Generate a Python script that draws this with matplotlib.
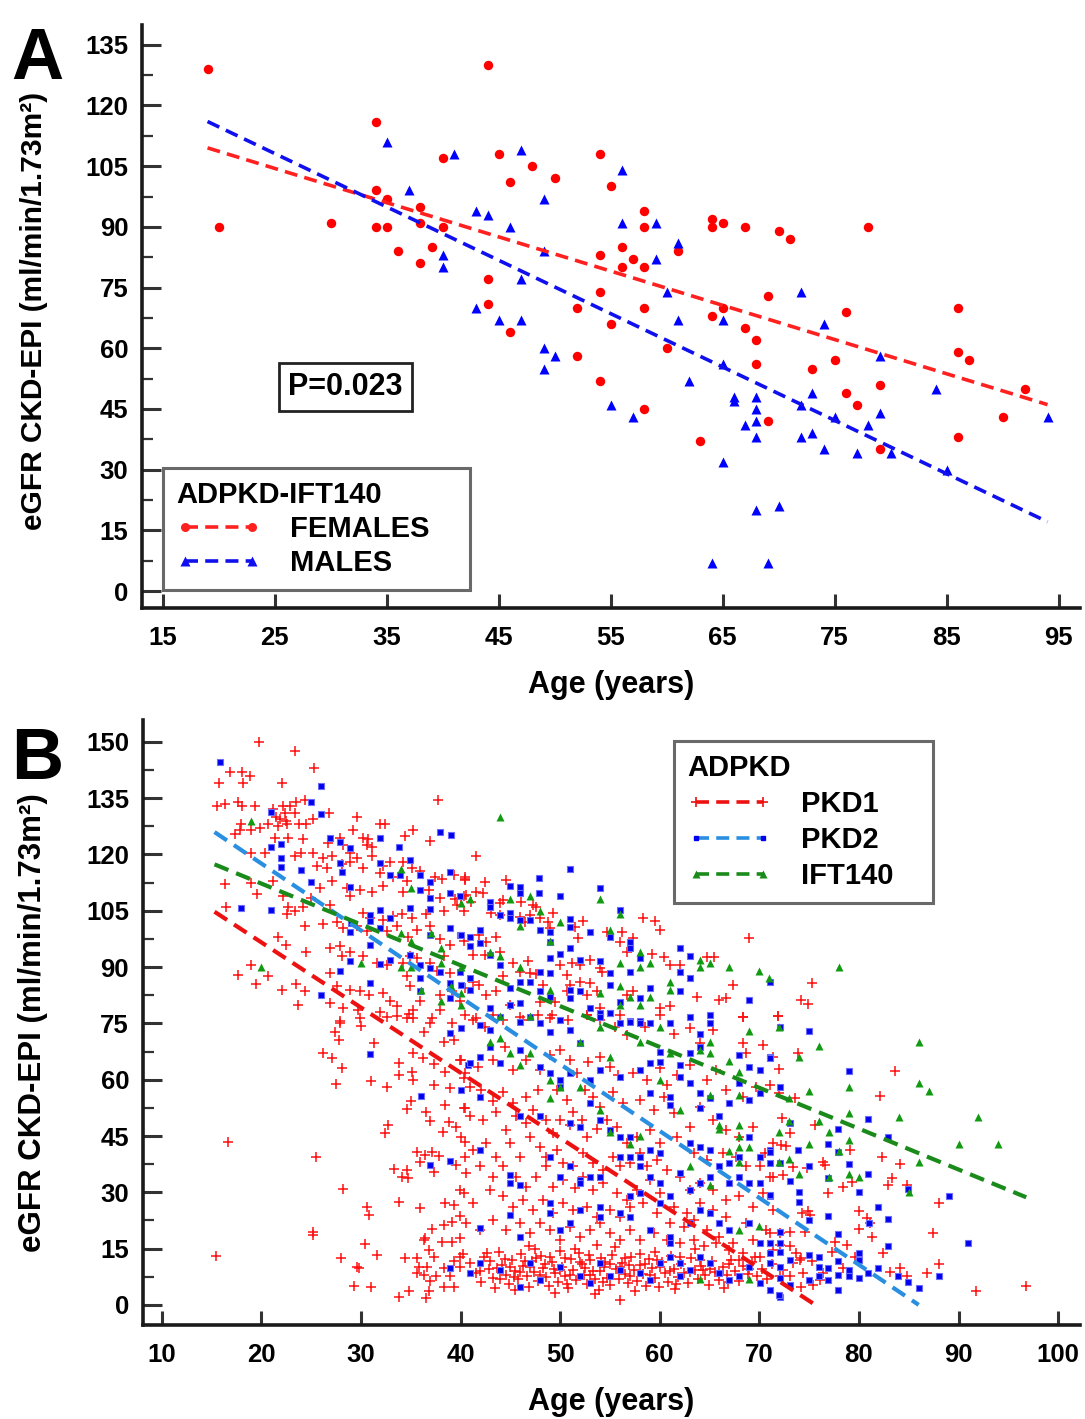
import matplotlib
matplotlib.use('Agg')
from matplotlib import pyplot as plt
from matplotlib.lines import Line2D
from matplotlib.ticker import MultipleLocator

plt.rcParams['font.family'] = ['Liberation Sans', 'DejaVu Sans']
plt.rcParams['font.weight'] = 'bold'

# ---- panel A: ADPKD-IFT140 by sex ----
female_age = [19, 20, 30, 34, 34, 34, 35, 35, 36, 38, 38, 38, 39, 40, 40, 44, 45, 48, 46, 50,
              54, 55, 58, 58, 64, 64, 65, 67, 54, 56, 57, 56, 58, 61, 44, 44, 46, 54, 52, 58,
              55, 60, 64, 65, 67, 68, 52, 70, 71, 78, 69, 76, 86, 54, 58, 63, 68, 73, 75, 86,
              87, 79, 76, 77, 69, 92, 90, 86, 79]
female_egfr = [129, 90, 91, 116, 99, 90, 97, 90, 84, 95, 91, 81, 85, 107, 90, 130, 108, 105, 101, 102,
               108, 100, 94, 90, 92, 90, 91, 90, 83, 85, 82, 80, 80, 84, 77, 71, 64, 74, 70, 70,
               66, 60, 68, 70, 65, 62, 58, 89, 87, 90, 73, 69, 70, 52, 45, 37, 56, 55, 57, 59,
               57, 51, 49, 46, 42, 50, 43, 38, 35]
male_age = [35, 41, 37, 40, 40, 47, 49, 43, 44, 46, 56, 56, 59, 61, 59, 49, 47, 43, 45, 47,
            60, 61, 65, 49, 50, 49, 55, 57, 62, 65, 66, 66, 67, 68, 68, 68, 68, 65, 68, 64,
            79, 73, 72, 75, 78, 79, 72, 73, 74, 77, 80, 84, 85, 94, 70, 69, 72, 74]
male_egfr = [111, 108, 99, 83, 80, 109, 97, 94, 93, 90, 104, 91, 91, 86, 82, 84, 77, 70, 67, 67,
             74, 67, 67, 60, 58, 55, 46, 43, 52, 56, 48, 47, 41, 48, 45, 42, 38, 32, 20, 7,
             58, 49, 46, 43, 41, 44, 38, 39, 35, 34, 34, 50, 30, 43, 21, 7, 74, 66]

# regression lines: (intercept, slope, age_from, age_to)
fit_female = (125.6, -0.846, 19, 94)
fit_male = (141.1, -1.319, 19, 94)

# ---- panel B: ADPKD by gene ----
pkd1_points = [
    (19.8, 150), (23.4, 147.5), (25.3, 143), (16.9, 142), (18.1, 142), (18.9, 141), (15.8, 139), (18.2, 139),
    (22.1, 139), (37.7, 134.5), (15.5, 133), (16.4, 133.5), (17.7, 134), (18.1, 133), (19.4, 133), (21.2, 132),
    (22.2, 133), (22.9, 133), (23.5, 134), (24.4, 134.5), (22.4, 131), (23.4, 131), (21.5, 130), (21.9, 129.5),
    (22.5, 129), (26.8, 131), (25.2, 129.5), (24.5, 128), (23.8, 128), (22.6, 128), (21.7, 127.5), (20.7, 128),
    (19.9, 127), (19.0, 126.5), (18.0, 128), (17.9, 126.5), (17.4, 125.5), (29.6, 130), (31.9, 128), (32.4, 128),
    (35.2, 126.5), (34.4, 125), (29.2, 126.5), (30.2, 124.5), (30.7, 124), (36.9, 123.5), (26.7, 123), (28.2, 122.5),
    (28.9, 120.5), (30.6, 122.5), (31.1, 122), (27.9, 124.5), (24.2, 124), (22.7, 124.5), (21.4, 124.5), (19.0, 120.5),
    (20.4, 120.5), (23.4, 119.5), (24.0, 120.5), (25.2, 120.5), (26.2, 119), (27.1, 119.5), (29.6, 119), (31.1, 119.5),
    (32.2, 117), (32.9, 118), (34.2, 118), (35.1, 116.5), (35.9, 115.5), (37.4, 114), (38.1, 113.5), (39.3, 114.5),
    (40.4, 113.5), (25.6, 117), (26.6, 116.5), (28.1, 117.5), (28.9, 118), (30.2, 116.5), (31.9, 115), (33.2, 114),
    (34.6, 113), (27.1, 113), (25.9, 111), (28.6, 111), (29.9, 110.5), (28.9, 109), (31.1, 110), (32.2, 111.5),
    (34.2, 110), (36.8, 110.5), (37.9, 108.5), (39.4, 108), (40.3, 109), (39.6, 106.5), (38.3, 105), (36.5, 104),
    (35.1, 103), (34.1, 104), (33.2, 103.5), (32.2, 102.5), (30.9, 103), (30.2, 104.5), (26.9, 106.5), (25.0, 108.5),
    (24.2, 106), (23.4, 105), (22.7, 106), (22.6, 104), (16.4, 112), (19.6, 109.5), (16.5, 106), (19.0, 112.5),
    (21.2, 113), (22.2, 109), (24.4, 101), (26.2, 101.5), (27.6, 102), (28.2, 100.5), (29.6, 101), (30.6, 99.5),
    (32.6, 99.5), (33.6, 101), (34.7, 98), (35.6, 100), (36.9, 101), (37.9, 97.5), (38.9, 96), (40.3, 97),
    (21.7, 98), (22.5, 96), (24.5, 94), (26.9, 95), (27.9, 95.5), (28.1, 93), (28.9, 94), (30.2, 93),
    (31.6, 91), (32.6, 90.5), (34.2, 91), (34.9, 93), (35.6, 92.5), (36.9, 91), (37.6, 89), (38.3, 93),
    (38.9, 88.5), (19.0, 90.5), (17.7, 88), (20.7, 87.5), (19.5, 85.5), (22.1, 84), (23.5, 85.5), (24.4, 83.5),
    (26.9, 88.5), (27.6, 85), (28.9, 84), (29.9, 83.5), (30.8, 82.5), (32.2, 83), (32.9, 81), (33.6, 79.5),
    (34.6, 87.5), (34.9, 85), (35.9, 81), (35.2, 78.5), (37.9, 82.5), (39.1, 83.5), (39.9, 81), (23.7, 80),
    (26.9, 80.5), (28.2, 79), (29.7, 78.5), (31.9, 78), (33.6, 77), (34.6, 76.5), (35.2, 76.5), (37.1, 76.5),
    (37.9, 78.5), (27.9, 75.5), (29.9, 76.5),
    (41.6, 119.7), (40.5, 114.1), (40.5, 113.2), (42.5, 112.7), (44.6, 113.2), (40.6, 109.2), (41.6, 110.1), (42.3, 109.6),
    (40.0, 108.3), (41.1, 107.4), (44.0, 107.0), (44.3, 107.9), (46.1, 107.4), (47.3, 106.5), (47.6, 106.1), (40.3, 104.8),
    (43.1, 104.3), (44.0, 103.9), (46.0, 103.4), (46.5, 102.1), (47.0, 103.9), (48.0, 103.0), (49.3, 104.5), (48.8, 102.1),
    (49.0, 100.3), (51.5, 100.8), (52.3, 102.3), (51.8, 97.7), (54.7, 99.4), (56.2, 99.4), (58.3, 103.0), (59.5, 102.3),
    (60.0, 99.9), (57.3, 97.7), (56.0, 96.8), (56.7, 94.1), (59.2, 93.4), (60.4, 92.8), (61.0, 90.6), (62.0, 90.6),
    (64.7, 92.8), (65.5, 92.8), (69.0, 97.8), (41.9, 98.6), (42.6, 96.8), (43.6, 98.1), (41.3, 93.2), (42.5, 93.2),
    (44.0, 94.1), (45.3, 91.0), (46.8, 91.5), (46.0, 88.8), (47.0, 88.4), (47.6, 88.1), (48.3, 85.2), (50.0, 90.6),
    (50.7, 87.9), (51.2, 91.0), (52.0, 90.6), (53.0, 91.9), (54.0, 89.7), (54.2, 88.8), (53.0, 85.7), (52.0, 86.1),
    (51.0, 85.2), (44.3, 87.5), (43.6, 83.5), (41.9, 85.2), (41.3, 86.1), (40.5, 84.4), (42.6, 82.6), (45.0, 79.9),
    (48.0, 80.8), (49.5, 80.8), (50.7, 83.5), (52.7, 82.6), (53.7, 83.5), (56.7, 82.6), (57.3, 83.5), (60.0, 79.0),
    (61.0, 79.5), (63.7, 82.1), (66.0, 81.2), (66.7, 81.7), (67.4, 85.2), (68.4, 76.8), (54.0, 79.0), (52.7, 77.2),
    (49.0, 76.3), (46.3, 75.9), (41.6, 76.3), (43.3, 77.2), (56.0, 77.2),
    (75.3, 85.7), (74.2, 81.2), (74.9, 80.1), (71.9, 77.0),
    (16.7, 43.3), (15.4, 13.0), (25.5, 39.3), (25.2, 19.5), (25.2, 18.6), (28.2, 30.9), (27.9, 75.0), (27.4, 72.8),
    (27.8, 70.7), (26.2, 67.2), (27.1, 65.9), (28.1, 63.0), (27.5, 58.9), (30.0, 74.3), (31.3, 69.7), (31.0, 59.7),
    (32.6, 58.0), (30.6, 26.2), (30.8, 24.0), (30.4, 16.2), (31.6, 13.3), (28.0, 12.4), (29.6, 10.0), (29.8, 9.8),
    (29.3, 5.1), (31.0, 4.9), (33.8, 2.0), (34.8, 3.7), (33.8, 27.3), (33.3, 36.1), (34.1, 34.0), (34.7, 33.7),
    (34.6, 35.9), (32.7, 47.9), (32.4, 45.7), (33.8, 64.4), (33.8, 61.3), (35.1, 62.1), (35.2, 59.9), (34.6, 52.1),
    (35.0, 54.2), (36.5, 51.5), (36.9, 49.1), (35.6, 40.8), (35.9, 38.2), (36.4, 39.9), (37.1, 40.8), (37.8, 39.7),
    (37.3, 35.5), (35.9, 25.8), (38.4, 27.1), (39.3, 26.6), (39.9, 30.6), (38.3, 21.3), (39.1, 22.2), (39.9, 23.6),
    (37.1, 20.2), (36.4, 17.8), (36.3, 17.3), (38.1, 16.9), (39.1, 16.9), (39.9, 17.8), (36.8, 14.6), (37.3, 12.9),
    (34.4, 12.4), (35.6, 12.4), (35.8, 10.2), (36.6, 10.0), (35.6, 8.5), (36.3, 8.0), (37.5, 7.6), (36.9, 6.5),
    (38.3, 4.9), (39.3, 4.9), (36.8, 3.6), (36.5, 1.8), (39.3, 11.6), (39.9, 12.9), (39.9, 10.2), (38.9, 7.6),
    (38.3, 9.8), (36.9, 75.0), (36.3, 72.8), (38.3, 70.1), (35.2, 67.0), (36.2, 65.7), (37.3, 64.2), (37.3, 58.6),
    (38.4, 62.1), (38.9, 57.7), (38.4, 53.3), (40.3, 52.4), (38.8, 48.8), (39.5, 47.5), (38.2, 46.1), (40.4, 43.5),
    (40.4, 39.5), (39.5, 37.3), (34.8, 77.5), (32.6, 76.8), (39.1, 75.0), (39.3, 70.6), (39.9, 65.2), (40.3, 60.4),
    (40.5, 77.2), (41.3, 75.9), (42.5, 74.1), (44.3, 75.9), (46.0, 76.8), (47.8, 77.2), (49.2, 77.2), (50.8, 75.9),
    (52.7, 77.2), (54.0, 75.9), (55.5, 74.1), (56.7, 71.9), (58.5, 74.1), (60.0, 77.2), (61.4, 72.3), (63.0, 73.7),
    (64.0, 69.7), (65.4, 73.2), (68.4, 76.8), (68.4, 69.7), (68.7, 67.0), (70.4, 69.2), (71.4, 66.1),
    (40.0, 65.2), (40.5, 61.7), (41.8, 63.5), (43.3, 65.2), (44.5, 68.8), (45.3, 62.6), (46.6, 65.2), (48.0, 62.6),
    (49.0, 66.6), (50.0, 67.9), (51.0, 65.2), (51.7, 61.7), (52.8, 64.8), (54.0, 66.1), (55.0, 63.5), (55.8, 61.3),
    (57.3, 61.7), (58.7, 59.9), (60.0, 63.0), (60.7, 58.6), (61.7, 61.3), (63.0, 63.9), (64.7, 59.9), (65.7, 62.6),
    (66.7, 57.3), (68.4, 55.5), (69.7, 58.1), (71.1, 58.6),
    (41.0, 58.1), (42.1, 57.3), (43.3, 54.2), (44.3, 56.8), (45.3, 53.7), (46.6, 55.5), (47.8, 57.3), (49.7, 57.3),
    (50.7, 54.6), (51.3, 51.5), (52.5, 57.3), (53.3, 55.5), (54.0, 52.8), (55.3, 56.8), (56.3, 53.7), (58.0, 54.6),
    (59.4, 51.9), (60.4, 55.5), (61.4, 51.0), (63.0, 47.5), (64.0, 52.8), (65.4, 49.3), (66.7, 46.6), (68.0, 44.8),
    (69.4, 47.5), (70.6, 40.4), (71.4, 43.1),
    (40.5, 52.4), (41.0, 50.2), (42.3, 49.3), (43.6, 51.5), (44.6, 46.6), (45.6, 50.2), (46.6, 48.4), (47.3, 51.9),
    (48.6, 49.3), (49.3, 45.7), (50.0, 49.3), (51.0, 47.9), (52.2, 49.3), (52.7, 44.8), (53.7, 47.0), (54.7, 49.3),
    (55.7, 47.5), (56.7, 43.1), (57.7, 44.8), (59.0, 46.6), (60.0, 43.1), (61.7, 44.8), (63.4, 40.4), (64.7, 38.6),
    (66.4, 40.4), (67.7, 39.5), (68.7, 36.9), (70.1, 36.9), (71.1, 34.2),
    (40.0, 44.8), (41.3, 41.3), (42.6, 43.1), (43.6, 39.5), (45.0, 43.1), (46.0, 39.5), (47.0, 44.8), (48.0, 42.2),
    (48.6, 39.5), (49.7, 41.3), (50.3, 37.7), (51.3, 36.9), (52.3, 40.4), (53.3, 37.7), (54.3, 36.0), (55.3, 39.5),
    (56.0, 36.9), (57.0, 37.7), (58.0, 40.4), (58.7, 36.9), (59.7, 38.6), (60.7, 36.0), (62.0, 34.2), (63.0, 30.6),
    (64.0, 32.4), (65.4, 30.6), (66.7, 28.0), (68.0, 28.9), (69.4, 26.2), (70.4, 29.7), (71.4, 25.3),
    (40.6, 35.1), (42.0, 36.9), (43.3, 34.2), (44.3, 36.9), (45.6, 34.2), (46.6, 31.5), (47.6, 34.2), (48.6, 36.9),
    (49.3, 31.5), (50.3, 33.3), (51.5, 31.1), (52.3, 34.2), (53.3, 30.6), (54.3, 32.4), (55.7, 29.7), (56.7, 28.0),
    (57.7, 30.6), (59.0, 33.3), (60.0, 29.7), (61.4, 26.2), (62.7, 24.4), (64.0, 27.1), (65.4, 25.3), (66.7, 23.5),
    (68.7, 21.8), (70.7, 20.0),
    (40.3, 29.7), (41.3, 27.1), (43.0, 30.6), (44.3, 28.9), (45.3, 26.2), (46.3, 28.0), (47.3, 25.3), (48.3, 28.0),
    (49.3, 24.4), (50.3, 27.1), (51.3, 25.3), (52.7, 26.2), (53.7, 23.5), (55.0, 25.3), (56.0, 23.5), (57.0, 26.2),
    (58.3, 27.1), (59.7, 24.4), (61.0, 21.8), (62.4, 20.9), (63.4, 22.6), (64.7, 20.0), (66.0, 18.2), (67.4, 16.4),
    (69.4, 17.3), (71.4, 14.7),
    (40.6, 21.8), (42.0, 20.0), (43.3, 22.6), (44.6, 20.0), (46.0, 21.8), (47.0, 19.1), (48.0, 21.8), (49.0, 20.0),
    (50.0, 17.3), (51.0, 20.9), (52.0, 18.2), (53.0, 20.0), (54.0, 21.8), (55.0, 19.1), (56.0, 17.3), (57.0, 20.0),
    (58.0, 17.3), (59.4, 19.1), (60.7, 17.3), (62.0, 16.4), (63.4, 17.3), (64.4, 15.6), (65.7, 16.4), (67.0, 14.7),
    (68.4, 13.8), (70.1, 12.9),
    (40.2, 13.5), (41.0, 11.2), (41.6, 8.4), (42.1, 6.1), (42.4, 12.8), (42.9, 9.7), (43.3, 7.2), (43.5, 4.6),
    (43.9, 14.1), (44.2, 10.6), (44.6, 8.0), (44.9, 5.5), (45.2, 12.0), (45.5, 9.1), (45.8, 6.8), (46.1, 13.6),
    (46.3, 10.4), (46.7, 7.6), (46.9, 4.8), (47.2, 11.7), (47.4, 8.7), (47.8, 6.3), (48.1, 13.1), (48.3, 9.9),
    (48.6, 7.4), (48.9, 5.0), (49.2, 11.4), (49.5, 8.5), (49.8, 6.0), (50.0, 14.4), (50.2, 10.2), (50.5, 7.8),
    (50.8, 4.4), (51.1, 12.3), (51.3, 9.4), (51.6, 6.6), (51.9, 13.9), (52.2, 10.8), (52.4, 8.1), (52.7, 5.6),
    (53.0, 11.9), (53.3, 9.0), (53.5, 6.9), (53.9, 4.1), (54.1, 12.6), (54.4, 10.0), (54.7, 7.3), (55.0, 5.3),
    (55.2, 13.3), (55.6, 9.6), (55.9, 7.0), (56.2, 11.1), (56.5, 8.3), (56.8, 5.8), (57.1, 12.9), (57.4, 9.3),
    (57.7, 6.5), (58.0, 10.7), (58.3, 8.2), (58.6, 5.1), (58.9, 12.2), (59.2, 9.8), (59.5, 7.1), (59.9, 4.7),
    (60.2, 11.5), (60.5, 8.6), (60.8, 6.2), (61.1, 13.0), (61.4, 9.5), (61.8, 7.5), (62.1, 10.9), (62.4, 8.4),
    (62.8, 5.9), (63.1, 12.4), (63.5, 9.2), (63.8, 7.0), (64.1, 10.5), (64.5, 8.1), (64.9, 5.4), (65.2, 11.8),
    (65.6, 8.9), (66.0, 6.7), (66.4, 10.1), (66.8, 7.9), (67.2, 12.1), (67.6, 9.0), (68.0, 6.4), (68.4, 10.3),
    (68.9, 8.2), (69.3, 11.5), (69.8, 7.7), (70.3, 9.6), (70.8, 6.9), (71.3, 10.8),
    (42.0, 9.0), (43.0, 11.6), (44.0, 7.0), (45.0, 10.0), (46.0, 8.9), (47.0, 10.0), (48.0, 8.0), (49.0, 12.8),
    (50.0, 9.2), (51.0, 8.0), (52.0, 11.5), (53.0, 7.9), (54.0, 9.1), (55.0, 11.0), (56.0, 10.2), (57.0, 7.8),
    (58.0, 13.5), (59.0, 8.0), (60.0, 10.0), (61.0, 9.1), (62.0, 12.8), (63.0, 8.7), (64.0, 12.0), (65.0, 9.6),
    (66.0, 8.5), (67.0, 10.9), (68.0, 11.9), (69.0, 9.5), (44.5, 12.3), (46.5, 11.8), (48.5, 11.0), (50.5, 12.6),
    (52.5, 9.8), (54.5, 11.4), (56.5, 12.6), (58.5, 11.0), (47.5, 14.8), (51.5, 15.0), (55.5, 15.5), (59.5, 14.2),
    (63.5, 14.9), (53.5, 2.8), (57.5, 3.6), (49.5, 3.3), (45.5, 3.9), (61.5, 4.2), (66.5, 4.6), (56.0, 1.4),
    (43.7, 9.9), (45.4, 7.4), (47.6, 12.6), (49.4, 9.6), (50.7, 5.7), (52.9, 13.2), (54.3, 6.2), (56.9, 10.6),
    (59.7, 11.9), (61.6, 5.5), (64.3, 9.4), (66.9, 6.0), (69.6, 12.7), (42.7, 13.9), (46.9, 15.6), (53.7, 15.9),
    (71.9, 77.0), (73.9, 67.2), (72.0, 62.8), (83.6, 62.4), (82.1, 55.7), (72.0, 56.5), (73.6, 55.0), (72.3, 49.7),
    (75.6, 47.9), (73.1, 45.7), (72.2, 42.6), (72.7, 42.3), (79.1, 41.3), (82.3, 39.5), (84.1, 37.6), (76.4, 38.2),
    (76.6, 37.3), (74.8, 36.4), (73.4, 36.8), (71.4, 34.2), (72.4, 34.6), (78.4, 31.3), (79.3, 32.8), (82.9, 32.0),
    (83.3, 33.7), (84.8, 32.0), (76.9, 29.7), (88.0, 27.2), (74.3, 24.6), (74.9, 25.1), (75.1, 24.0), (80.0, 24.9),
    (80.8, 23.1), (81.1, 21.8), (80.0, 20.2), (74.6, 19.5), (73.1, 19.5), (72.1, 19.1), (81.3, 18.2), (87.4, 19.3),
    (78.8, 16.0), (77.3, 14.2), (73.7, 13.8), (73.1, 15.6), (72.1, 16.0), (79.6, 12.9), (82.4, 13.8), (88.0, 11.0),
    (84.1, 9.8), (83.1, 8.9), (84.8, 7.6), (86.8, 8.5), (74.1, 12.0), (74.2, 12.4), (73.4, 11.1), (72.4, 9.3),
    (73.1, 7.6), (74.4, 8.5), (75.3, 11.6), (75.4, 5.3), (76.1, 6.7), (78.4, 9.8), (76.4, 8.5), (74.2, 4.9),
    (72.1, 7.6), (91.8, 3.8), (96.8, 5.0), (77.6, 16.9), (71.1, 19.1),
]

pkd2_points = [
    (15.9, 144.7), (26.0, 138.2), (25.0, 133.9), (26.0, 130.7), (21.0, 131.4), (22.0, 122.8), (21.0, 122.0), (22.0, 119.0),
    (22.0, 116.7), (24.0, 115.8), (27.9, 123.4), (26.9, 124.3), (28.9, 121.6), (31.9, 124.3), (37.9, 125.9), (39.0, 125.2),
    (33.8, 121.9), (34.9, 118.5), (31.9, 117.6), (27.9, 117.6), (28.1, 115.4), (25.0, 112.7), (28.9, 111.4), (32.9, 114.5),
    (33.9, 114.5), (35.9, 114.5), (36.9, 112.7), (38.9, 115.4), (38.9, 109.6), (39.9, 108.8), (35.9, 110.5), (36.9, 108.3),
    (34.9, 105.8), (36.9, 105.5), (31.9, 105.2), (30.9, 103.9), (30.9, 102.3), (32.9, 103.0), (18.0, 105.6), (21.0, 105.2),
    (29.0, 101.7), (28.9, 99.4), (30.9, 95.9), (31.9, 100.3), (36.9, 98.6), (38.9, 100.3), (39.9, 98.6), (34.9, 93.2),
    (35.9, 90.6), (31.9, 90.7), (32.9, 91.9), (28.9, 91.6), (27.9, 89.0), (30.9, 85.7), (26.0, 82.6), (35.9, 87.0),
    (36.9, 89.7), (37.9, 88.8), (38.9, 85.7), (39.9, 88.8), (38.9, 81.7), (35.9, 83.5),
    (51.0, 116.0), (54.0, 111.0), (47.9, 113.8), (47.9, 109.8), (46.0, 111.2), (46.0, 109.8), (45.0, 111.6), (43.0, 107.4),
    (43.0, 106.1), (44.0, 103.9), (45.0, 104.3), (45.0, 103.0), (46.0, 102.5), (47.0, 102.4), (48.0, 99.9), (50.0, 108.9),
    (51.0, 102.7), (51.0, 100.8), (53.0, 99.4), (49.0, 99.4), (49.0, 96.8), (51.0, 95.0), (50.0, 93.4), (49.0, 92.5),
    (48.0, 88.8), (49.0, 88.3), (47.0, 86.1), (46.0, 86.1), (45.0, 84.4), (44.0, 90.6), (43.0, 93.2), (42.0, 99.9),
    (41.0, 98.1), (41.0, 95.5), (40.0, 98.6), (42.0, 96.3), (41.0, 87.0), (40.0, 85.2), (41.0, 83.9), (55.0, 98.1),
    (56.0, 105.2), (57.0, 96.8), (57.0, 95.0), (58.0, 92.3), (55.0, 88.3), (54.0, 91.5), (52.0, 91.9), (57.0, 88.8),
    (55.0, 85.2), (51.0, 83.9), (52.0, 83.5), (51.0, 81.7), (48.0, 83.5), (46.0, 80.4), (45.0, 79.9), (43.0, 79.0),
    (49.0, 82.1), (59.0, 84.4), (58.0, 81.7), (62.0, 95.2), (63.0, 93.0), (62.0, 88.8), (63.0, 87.0), (62.0, 83.5),
    (71.1, 86.1), (69.0, 81.2), (53.0, 79.0), (54.0, 77.7), (55.0, 77.7), (57.0, 75.5), (58.0, 75.5), (56.0, 80.8),
    (30.9, 66.8), (36.0, 55.6), (36.9, 37.3), (38.9, 38.4), (38.9, 9.8), (38.9, 72.5), (40.0, 73.9), (40.8, 63.9),
    (42.0, 74.6), (43.0, 73.2), (44.0, 76.8), (46.0, 75.4), (47.0, 76.8), (48.0, 75.0), (49.0, 72.8), (50.0, 75.9),
    (51.0, 73.2), (52.0, 69.7), (54.0, 76.8), (55.0, 77.7), (56.0, 75.0), (57.0, 75.4), (58.0, 75.0), (59.0, 75.0),
    (61.0, 75.0), (63.0, 76.8), (64.0, 72.3), (65.0, 77.2), (65.0, 75.0), (63.0, 67.0), (64.0, 68.8), (62.0, 63.9),
    (60.0, 67.5), (59.0, 64.4), (58.0, 62.6), (60.0, 64.8), (42.0, 66.1), (43.0, 68.8), (44.0, 64.4), (46.0, 67.9),
    (48.0, 63.5), (49.0, 61.7), (50.0, 59.9), (51.0, 61.7), (53.0, 59.9), (54.0, 62.6), (56.0, 60.8), (59.0, 56.4),
    (61.0, 55.5), (61.0, 53.3), (62.0, 60.8), (63.0, 59.0), (64.0, 56.4), (64.0, 52.4), (65.0, 55.0), (66.0, 50.2),
    (67.0, 53.7), (68.0, 66.6), (69.0, 63.5), (70.1, 62.6), (71.1, 66.1), (68.0, 59.0), (69.0, 54.6), (70.1, 56.4),
    (72.1, 58.1), (41.0, 64.4), (42.0, 55.5), (40.0, 57.3), (46.0, 50.2), (48.0, 50.2), (51.0, 48.4), (52.0, 47.5),
    (50.0, 58.1), (53.0, 53.7), (54.0, 49.3), (55.0, 46.6), (56.0, 44.8), (57.0, 44.8), (56.0, 39.5), (57.0, 39.5),
    (58.0, 39.5), (59.0, 41.3), (58.0, 36.9), (60.0, 40.4), (63.0, 43.1), (64.0, 42.2), (65.0, 41.3), (66.0, 36.9),
    (67.0, 37.7), (68.0, 39.5), (69.0, 44.8), (70.1, 39.5), (71.1, 37.7), (71.1, 41.3), (45.0, 34.6), (45.0, 32.4),
    (46.0, 32.0), (49.0, 39.5), (50.0, 34.2), (51.0, 36.9), (52.0, 33.3), (52.0, 32.4), (53.0, 34.2), (54.0, 34.2),
    (57.0, 28.9), (58.0, 29.7), (59.0, 34.2), (60.0, 32.4), (61.0, 28.9), (62.0, 35.1), (63.0, 30.6), (64.0, 32.4),
    (65.0, 34.2), (67.0, 32.4), (68.0, 34.2), (69.0, 32.4), (70.1, 32.4), (71.1, 28.9), (42.0, 41.3), (42.0, 20.5),
    (45.0, 24.0), (46.0, 18.2), (49.0, 27.1), (49.0, 24.4), (50.0, 20.0), (51.0, 21.8), (52.0, 25.3), (54.0, 26.2),
    (54.0, 23.5), (56.0, 24.4), (57.0, 23.5), (59.0, 20.0), (60.0, 27.1), (61.0, 18.2), (61.0, 16.4), (63.0, 21.8),
    (64.0, 25.3), (65.0, 24.4), (66.0, 21.8), (67.0, 20.0), (69.0, 21.8), (70.1, 16.4), (71.1, 16.4), (72.1, 16.4),
    (60.0, 11.1), (61.0, 12.9), (62.0, 11.1), (63.0, 9.3), (64.0, 12.9), (65.0, 11.1), (66.0, 8.5), (67.0, 6.7),
    (68.0, 7.6), (69.0, 10.2), (70.1, 5.8), (71.1, 4.0), (72.1, 2.2), (58.0, 8.5), (56.0, 9.3), (54.0, 11.1),
    (52.0, 7.6), (50.0, 10.2), (48.0, 6.7), (47.0, 11.1), (46.0, 4.9), (44.0, 9.3), (42.0, 11.1), (41.0, 8.5),
    (53.0, 5.8), (55.0, 7.6), (59.0, 6.7), (62.0, 7.6),
    (72.1, 74.1), (75.0, 73.0), (79.0, 62.4), (71.1, 65.7), (80.9, 49.5), (82.9, 44.8), (77.9, 47.0), (73.1, 48.4),
    (76.9, 43.0), (71.1, 40.8), (72.1, 37.7), (73.9, 41.3), (77.9, 40.8), (75.0, 36.9), (79.0, 37.5), (76.9, 33.7),
    (80.9, 34.8), (73.1, 32.9), (80.0, 30.0), (74.0, 30.2), (74.0, 27.3), (71.1, 29.3), (84.9, 31.0), (89.0, 29.1),
    (76.9, 23.8), (75.0, 22.6), (81.9, 26.0), (82.9, 22.9), (81.0, 21.8), (77.9, 18.9), (82.9, 15.8), (91.0, 16.4),
    (72.1, 19.5), (71.1, 16.4), (72.1, 14.2), (71.1, 11.1), (73.1, 12.0), (72.1, 10.2), (75.0, 13.3), (76.0, 12.7),
    (76.0, 10.2), (76.9, 9.8), (77.9, 11.8), (79.0, 9.3), (80.0, 13.8), (80.0, 12.0), (72.1, 7.1), (73.1, 5.3),
    (72.0, 2.7), (75.0, 6.7), (76.0, 7.6), (76.9, 6.7), (77.9, 8.0), (79.0, 7.6), (77.9, 4.0), (80.0, 7.1),
    (80.9, 8.5), (81.9, 9.8), (83.9, 7.6), (84.9, 6.2), (86.0, 4.5), (88.0, 7.6), (71.1, 13.8),
]

# IFT140 patients in panel B are the panel A cohort
ift140_age = female_age + male_age
ift140_egfr = female_egfr + male_egfr

fit_pkd1 = (131.3, -1.736, 15.3, 75.6)
fit_pkd2 = (153.2, -1.781, 15.3, 86.0)
fit_ift140 = (134.0, -1.088, 15.3, 96.8)

DASH = (0, (3.6, 2.0))


def fit_line(ax, fit, color, lw):
    b, m, x0, x1 = fit
    ax.plot([x0, x1], [b + m * x0, b + m * x1], color=color, lw=lw, ls=DASH, zorder=5)


def style_axes(ax, xlim, ylim, xticks, ystep):
    ax.set_xlim(*xlim)
    ax.set_ylim(*ylim)
    ax.set_xticks(xticks)
    ax.yaxis.set_major_locator(MultipleLocator(ystep))
    ax.yaxis.set_minor_locator(MultipleLocator(ystep / 2))
    for side in ('top', 'right'):
        ax.spines[side].set_visible(False)
    for side in ('left', 'bottom'):
        ax.spines[side].set_linewidth(2.6)
        ax.spines[side].set_color('#1a1a1a')
    ax.tick_params(axis='both', which='major', direction='in', width=2.2,
                   color='#333333', labelsize=18.5)
    ax.tick_params(axis='x', which='major', length=10, pad=13)
    ax.tick_params(axis='y', which='major', length=14, pad=10)
    ax.tick_params(axis='y', which='minor', direction='in', length=8, width=1.6, color='#333333')
    for lab in ax.get_xticklabels() + ax.get_yticklabels():
        lab.set_fontweight('bold')


def make_legend(ax, handles, labels, title, anchor, spacing):
    x0, y_top, w = anchor
    leg = ax.legend(handles, labels, title=title, loc='upper left',
                    bbox_to_anchor=(x0, y_top - 0.1, w, 0.1), mode='expand', borderaxespad=0,
                    numpoints=2, handlelength=2.9, handletextpad=1.0, labelspacing=spacing,
                    borderpad=0.45, fancybox=False, edgecolor='#444444', alignment='left',
                    prop={'weight': 'bold', 'size': 21},
                    title_fontproperties={'weight': 'bold', 'size': 21})
    leg.get_frame().set_linewidth(2.2)
    return leg


fig = plt.figure(figsize=(10.85, 14.19), dpi=100)
ylabel = 'eGFR CKD-EPI (ml/min/1.73m²)'

# ---------------- panel A ----------------
axA = fig.add_axes([0.1309, 0.5715, 0.8645, 0.4109])
axA.plot(female_age, female_egfr, 'o', color='#ff0000', ms=6.8, mec='none', zorder=3)
axA.plot(male_age, male_egfr, '^', color='#0000ff', ms=7.5, mec='none', zorder=3)
fit_line(axA, fit_female, '#ff2020', 2.6)
fit_line(axA, fit_male, '#1010ee', 2.6)
style_axes(axA, (13.15, 96.9), (-4.2, 139.9), range(15, 96, 10), 15)
axA.set_xlabel('Age (years)', fontsize=22, fontweight='bold', labelpad=14)
axA.set_ylabel(ylabel, fontsize=21.5, fontweight='bold')
axA.yaxis.set_label_coords(-0.100, 0.51)

axA.text(31.3, 50.4, 'P=0.023', fontsize=22, fontweight='bold', ha='center', va='center',
         bbox=dict(boxstyle='square,pad=0.3', fc='white', ec='#222222', lw=2))

hA = [Line2D([], [], color='#ff2020', ls=DASH, lw=2.6, marker='o', ms=6.5, mec='none'),
      Line2D([], [], color='#1010ee', ls=DASH, lw=2.6, marker='^', ms=7, mec='none')]
make_legend(axA, hA, ['FEMALES', 'MALES'], 'ADPKD-IFT140', (0.0224, 0.240, 0.327), 0.2)

# ---------------- panel B ----------------
axB = fig.add_axes([0.1318, 0.0662, 0.8636, 0.4264])
p1_age = [p[0] for p in pkd1_points]
p1_egfr = [p[1] for p in pkd1_points]
p2_age = [p[0] for p in pkd2_points]
p2_egfr = [p[1] for p in pkd2_points]
axB.plot(p1_age, p1_egfr, '+', color='#ff1010', ms=7.5, mew=1.1, zorder=2)
axB.plot(p2_age, p2_egfr, 's', color='#0000ee', ms=3.8, mec='#6a6aff', mew=0.8, zorder=3)
axB.plot(ift140_age, ift140_egfr, '^', color='#129a12', ms=6, mec='none', zorder=4)
fit_line(axB, fit_pkd1, '#ee1111', 3.0)
fit_line(axB, fit_pkd2, '#2a8fe0', 3.0)
fit_line(axB, fit_ift140, '#1a8a1a', 3.0)
style_axes(axB, (8.12, 102.2), (-5.35, 155.8), range(10, 101, 10), 15)
axB.set_xlabel('Age (years)', fontsize=22, fontweight='bold', labelpad=14)
axB.set_ylabel(ylabel, fontsize=22.5, fontweight='bold')
axB.yaxis.set_label_coords(-0.101, 0.50)

hB = [Line2D([], [], color='#ee1111', ls=DASH, lw=2.6, marker='+', ms=7, mew=1.2),
      Line2D([], [], color='#2a8fe0', ls=DASH, lw=2.6, marker='s', ms=3.5, mfc='#0000ee', mec='#0000ee'),
      Line2D([], [], color='#1a8a1a', ls=DASH, lw=2.6, marker='^', ms=6, mec='none')]
make_legend(axB, hB, ['PKD1', 'PKD2', 'IFT140'], 'ADPKD', (0.5667, 0.9653, 0.2764), 0.27)

# panel letters
fig.text(37 / 1085, 1 - 60 / 1419, 'A', fontsize=52, fontweight='bold', ha='center', va='center')
fig.text(37 / 1085, 1 - 760 / 1419, 'B', fontsize=52, fontweight='bold', ha='center', va='center')

fig.savefig('out.png', dpi=100)
